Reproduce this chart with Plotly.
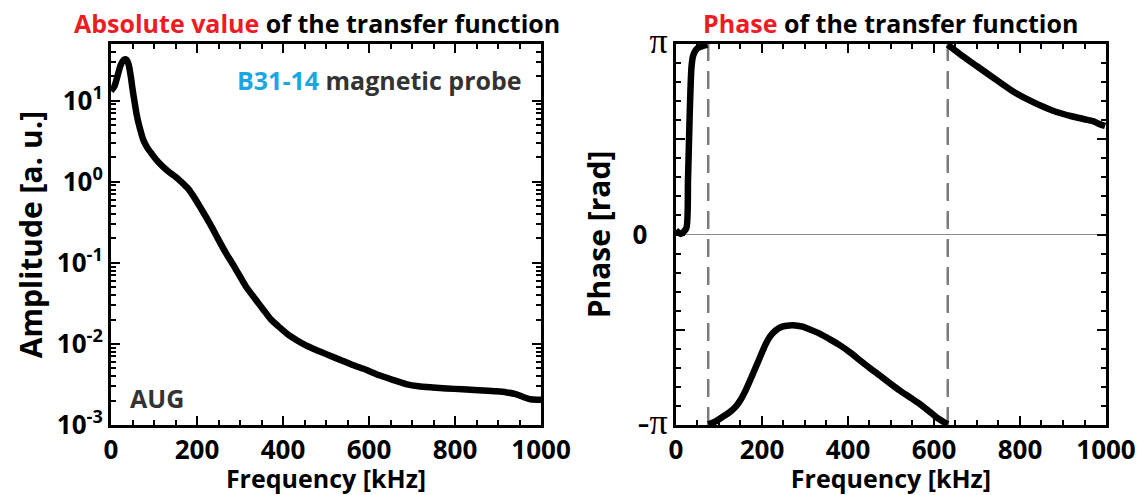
import numpy as np
import plotly.graph_objects as go
from plotly.subplots import make_subplots

# Amplitude of the transfer function (left panel)
amp_freq = [0, 8, 15, 22, 30, 36, 41, 46, 50, 55, 60, 67, 75, 85, 95, 106, 120, 135,
            152, 165, 178, 192, 206, 222, 237, 253, 268, 284, 300, 315, 335, 353, 372,
            392, 412, 431, 450, 469, 490, 508, 535, 562, 593, 624, 655, 686, 715, 748,
            780, 817, 855, 895, 920, 941, 960, 975, 990, 1000]
amp_val = [13.2, 15, 20, 27, 32, 32, 28, 20, 14, 9.5, 6.6, 4.6, 3.3, 2.6, 2.2, 1.85,
           1.55, 1.32, 1.13, 0.98, 0.84, 0.66, 0.50, 0.36, 0.26, 0.18, 0.13, 0.095,
           0.068, 0.050, 0.036, 0.027, 0.020, 0.016, 0.0130, 0.0112, 0.0098, 0.0088,
           0.0079, 0.0072, 0.0063, 0.0055, 0.0048, 0.0041, 0.0036, 0.0032, 0.0030,
           0.0029, 0.00282, 0.00276, 0.00268, 0.0026, 0.00252, 0.0024, 0.0022,
           0.00208, 0.00205, 0.00205]

# Phase of the transfer function (right panel), split at the +/- pi wraps
ph1_freq = [0, 11, 24, 28, 32, 36, 40, 50, 73]
ph1_val = [0.07, 0.01, 0.1, 0.9, 2.0, 2.75, 2.95, 3.07, 3.13]
ph2_freq = [75, 90, 108, 125, 139, 150, 162, 174, 186, 198, 209, 220, 232, 247, 263,
            278, 294, 313, 333, 356, 380, 404, 427, 450, 473, 497, 520, 543, 566, 586,
            605, 620, 632]
ph2_val = [-3.13, -3.09, -3.01, -2.93, -2.84, -2.73, -2.57, -2.38, -2.18, -1.98, -1.80,
           -1.67, -1.58, -1.52, -1.50, -1.50, -1.52, -1.57, -1.63, -1.72, -1.82, -1.94,
           -2.07, -2.20, -2.32, -2.45, -2.57, -2.68, -2.79, -2.90, -3.01, -3.08, -3.13]
ph3_freq = [632, 665, 701, 745, 786, 820, 853, 885, 920, 950, 970, 985, 998]
ph3_val = [3.13, 2.95, 2.77, 2.55, 2.35, 2.22, 2.11, 2.02, 1.95, 1.90, 1.87, 1.82, 1.79]
wrap_freq = [75, 632]

FONT = "Open Sans"
RED = "#ed1c24"
BLUE = "#1ba6e3"
GREY_TXT = "#333333"

# the page body adds an 8px offset, so the figure is 8px smaller on each side
fig = make_subplots(rows=1, cols=2, horizontal_spacing=0.1356)

fig.add_trace(go.Scatter(x=amp_freq, y=amp_val, mode="lines",
                         line=dict(color="black", width=6.5, shape="spline", smoothing=0.6),
                         showlegend=False), row=1, col=1)

for fx, fy in [(ph1_freq, ph1_val), (ph2_freq, ph2_val), (ph3_freq, ph3_val)]:
    fig.add_trace(go.Scatter(x=fx, y=fy, mode="lines",
                             line=dict(color="black", width=6.5, shape="spline", smoothing=0.6),
                             showlegend=False), row=1, col=2)

# dashed lines at the phase wraps
for f in wrap_freq:
    fig.add_shape(type="line", x0=f, x1=f, y0=0, y1=1, xref="x2", yref="y2 domain",
                  line=dict(color="#7a7a7a", width=2.5, dash="18px,10px"), layer="below")

tick_font = dict(family=FONT, size=26, color="black", weight="bold")
axis_common = dict(showline=True, linewidth=3, linecolor="black", mirror="allticks",
                   ticks="inside", tickwidth=2, tickcolor="black", showgrid=False,
                   automargin=False, tickfont=tick_font)

xaxis_common = dict(axis_common, range=[0, 1000], tickvals=[0, 200, 400, 600, 800, 1000],
                    ticklen=9,
                    minor=dict(ticks="inside", dtick=50, ticklen=5, tickwidth=2, tickcolor="black"),
                    title=dict(text="Frequency [kHz]", standoff=0,
                               font=dict(family=FONT, size=25, color="black", weight="bold")),
                    zeroline=False)

fig.update_xaxes(xaxis_common, row=1, col=1)
fig.update_xaxes(xaxis_common, row=1, col=2)

fig.update_yaxes(axis_common, type="log", range=[-3, np.log10(50)],
                 tickvals=[0.001, 0.01, 0.1, 1, 10],
                 ticktext=["10<sup>-3</sup>", "10<sup>-2</sup>", "10<sup>-1</sup>",
                           "10<sup>0</sup>", "10<sup>1</sup>"],
                 ticklen=9,
                 minor=dict(ticks="inside", dtick="D1", ticklen=5, tickwidth=2, tickcolor="black"),
                 title=dict(text="Amplitude [a. u.]", standoff=6,
                            font=dict(family=FONT, size=30, color="black", weight="bold")),
                 row=1, col=1)

pi = np.pi
PI_STYLE = "font-family:Liberation Serif;font-weight:normal;font-size:36px"
fig.update_yaxes(axis_common, range=[-pi, pi],
                 tickvals=[-pi, -pi / 2, 0, pi / 2, pi],
                 ticktext=[f"<span style='{PI_STYLE}'>-π</span>", "", "0\u00a0\u00a0\u00a0", "",
                           f"<span style='{PI_STYLE}'>π</span>"],
                 ticklen=9,
                 minor=dict(ticks="inside", tick0=0, dtick=pi / 10, ticklen=5, tickwidth=2,
                            tickcolor="black"),
                 zeroline=True, zerolinecolor="#8c8c8c", zerolinewidth=1,
                 title=dict(text="Phase [rad]", standoff=14,
                            font=dict(family=FONT, size=30, color="black", weight="bold")),
                 row=1, col=2)

title_font = dict(family=FONT, size=25, color="black", weight="bold")
fig.add_annotation(text=f"<span style='color:{RED}'>Absolute value</span> of the transfer function",
                   x=0.48, y=1.0, xref="x domain", yref="paper", yanchor="bottom", yshift=2,
                   showarrow=False, font=title_font)
fig.add_annotation(text=f"<span style='color:{RED}'>Phase</span> of the transfer function",
                   x=0.5, y=1.0, xref="x2 domain", yref="paper", yanchor="bottom", yshift=2,
                   showarrow=False, font=title_font)
fig.add_annotation(text=f"<span style='color:{BLUE}'>B31-14</span> magnetic probe",
                   x=0.96, y=0.905, xref="x domain", yref="y domain", xanchor="right",
                   yanchor="middle", showarrow=False,
                   font=dict(family=FONT, size=25, color=GREY_TXT, weight="bold"))
fig.add_annotation(text="AUG", x=0.04, y=0.072, xref="x domain", yref="y domain",
                   xanchor="left", yanchor="middle", showarrow=False,
                   font=dict(family=FONT, size=25, color=GREY_TXT, weight="bold"))

fig.update_layout(width=1139, height=487, plot_bgcolor="white", paper_bgcolor="white",
                  margin=dict(l=103, r=41, t=36, b=70))

fig.write_html("out.html")
